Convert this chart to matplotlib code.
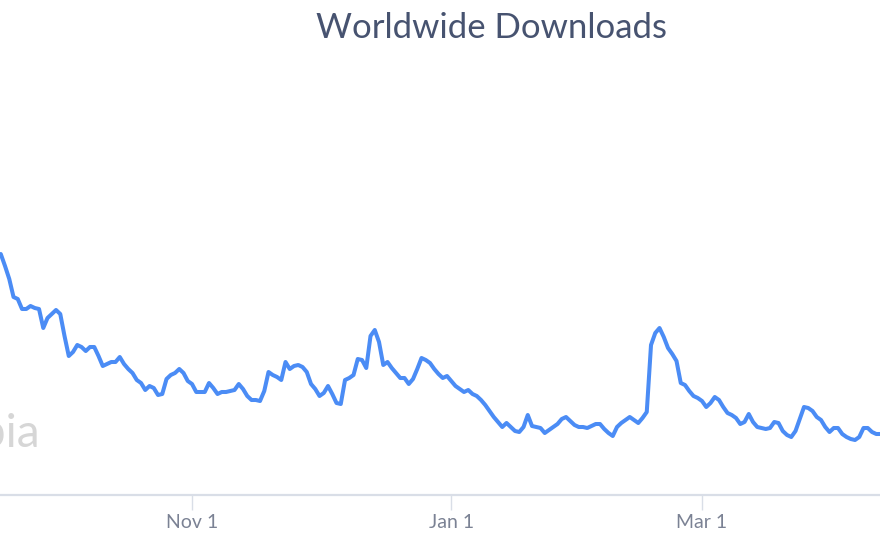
import matplotlib
matplotlib.use("Agg")
import matplotlib.pyplot as plt
import matplotlib.dates as mdates
import pandas as pd

# ---- data (arbitrary download units) ----
start_date = "2018-09-17"
downloads = [
    241, 229, 216, 198, 196, 186, 186, 189, 187, 186,
    167, 177, 181, 185, 181, 159, 139, 143, 150, 148,
    144, 148, 148, 139, 129, 131, 133, 133, 138, 131,
    126, 122, 115, 112, 105, 109, 107, 100, 101, 116,
    120, 122, 126, 122, 114, 111, 103, 103, 103, 112,
    107, 101, 103, 103, 104, 105, 111, 106, 99, 95,
    95, 94, 104, 123, 120, 118, 115, 133, 126, 129,
    130, 128, 123, 111, 106, 99, 102, 109, 101, 92,
    91, 115, 117, 120, 136, 135, 127, 159, 165, 153,
    130, 133, 127, 122, 117, 117, 111, 116, 126, 137,
    135, 132, 126, 121, 117, 119, 114, 109, 106, 103,
    105, 101, 99, 95, 90, 84, 78, 73, 68, 72,
    68, 64, 63, 68, 80, 69, 68, 67, 62, 65,
    68, 71, 76, 78, 74, 70, 68, 68, 67, 69,
    71, 71, 66, 62, 59, 68, 72, 75, 78, 75,
    72, 77, 83, 150, 162, 167, 158, 147, 141, 134,
    112, 110, 104, 99, 97, 94, 88, 92, 98, 95,
    88, 82, 80, 77, 71, 73, 81, 73, 68, 67,
    66, 67, 73, 72, 64, 60, 58, 64, 76, 88,
    87, 84, 78, 75, 68, 63, 67, 67, 61, 58,
    56, 55, 58, 67, 67, 63, 61, 61,
]
tick_dates = ["2018-11-01", "2019-01-01", "2019-03-01"]
tick_labels = ["Nov 1", "Jan 1", "Mar 1"]
title = "Worldwide Downloads"
watermark = "Apptopia"

dates = pd.date_range(start_date, periods=len(downloads), freq="D")

plt.rcParams["font.family"] = ["Lato", "DejaVu Sans"]

fig = plt.figure(figsize=(8.8, 5.42), dpi=100)
fig.patch.set_facecolor("white")
ax = fig.add_axes([0.0, 1 - 495 / 542, 1.0, 435 / 542])
ax.set_facecolor("none")

# watermark behind the line (clipped at the left edge, as in the source)
ax.text(40 / 880, 1 - 447 / 542, watermark, transform=fig.transFigure,
        ha="right", va="baseline", fontsize=33, color="#d6d6d6",
        zorder=0, clip_on=False)

ax.plot(dates, downloads, color="#4b8cf5", lw=2.9,
        solid_joinstyle="round", solid_capstyle="round", zorder=3)

x0 = mdates.date2num(pd.Timestamp(start_date))
ax.set_xlim(x0 - 0.18, x0 + 206.88)
ax.set_ylim(0, 435)

for s in ["top", "left", "right"]:
    ax.spines[s].set_visible(False)
ax.spines["bottom"].set_color("#d9dee7")
ax.spines["bottom"].set_linewidth(1.6)
ax.set_yticks([])
ax.set_xticks([mdates.date2num(pd.Timestamp(d)) for d in tick_dates])
ax.set_xticklabels(tick_labels)
ax.tick_params(axis="x", direction="out", length=11, width=1.0,
               color="#d9dee7", labelcolor="#7b8294", labelsize=14, pad=3)

fig.text(491 / 880, 1 - 28 / 542, title, ha="center", va="center",
         fontsize=25, color="#475370")

fig.savefig("out.png", dpi=100, facecolor="white")
